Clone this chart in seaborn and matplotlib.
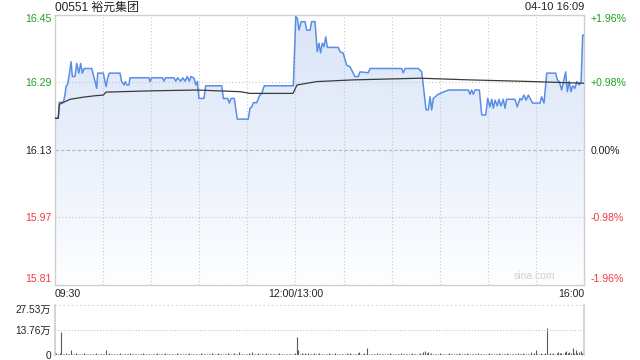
import numpy as np
import pandas as pd
import matplotlib
matplotlib.use("Agg")
import matplotlib.pyplot as plt
from matplotlib.colors import LinearSegmentedColormap
import seaborn as sns

# ---------------- data ----------------
title_text = "00551 裕元集团"
stamp_text = "04-10 16:09"
prev_close = 16.13
price_ticks = [15.81, 15.97, 16.13, 16.29, 16.45]
price_tick_labels = ["15.81", "15.97", "16.13", "16.29", "16.45"]
pct_tick_labels = ["-1.96%", "-0.98%", "0.00%", "+0.98%", "+1.96%"]
time_tick_pos = [0, 150, 330]
time_tick_labels = ["09:30", "12:00/13:00", "16:00"]
vol_ticks = [0, 13.76, 27.53]
vol_tick_labels = ["0", "13.76万", "27.53万"]

# minutes since 09:30 (lunch removed) and price at each vertex of the line
minutes = [0, 2.2, 2.9, 5.4, 6.4, 7.0, 7.9, 8.9, 10.2, 11.0, 12.6, 13.7, 15.0, 16.2, 17.2, 18.4,
           23.1, 24.1, 25.1, 26.2, 26.8, 30.3, 32.0, 33.0, 34.0, 40.7, 41.7, 43.2, 44.0, 44.9, 46.3,
           46.9, 58.8, 59.4, 60.4, 67.3, 68.1, 69.2, 74.3, 75.4, 76.6, 78.5, 79.8, 81.2, 82.6, 83.9,
           84.9, 86.8, 87.9, 88.9, 89.9, 93.0, 94.1, 104.1, 105.1, 107.8, 108.8, 109.9, 111.9, 113.8,
           120.6, 121.7, 122.8, 123.8, 125.9, 127.5, 129.0, 130.6, 148.7, 150.2, 151.2, 152.2, 153.5,
           156.0, 157.0, 159.1, 160.1, 162.2, 163.6, 164.7, 165.7, 166.7, 167.8, 168.9, 169.9, 176.7,
           177.8, 179.8, 181.9, 184.0, 185.1, 187.1, 189.2, 190.2, 195.4, 196.5, 216.2, 217.2, 218.3,
           226.6, 228.7, 231.4, 232.8, 233.9, 234.9, 235.9, 239.0, 245.3, 257.7, 258.8, 259.8, 260.8,
           261.9, 264.6, 266.1, 268.6, 269.8, 271.2, 272.3, 273.3, 274.4, 275.8, 276.8, 278.1, 279.5,
           280.6, 281.6, 286.8, 288.2, 289.9, 291.0, 292.4, 293.7, 295.1, 296.2, 297.8, 302.4, 303.4,
           304.9, 306.6, 312.2, 313.2, 314.4, 315.9, 318.4, 319.4, 320.6, 321.7, 322.8, 324.2, 325.3,
           326.9, 328.0, 329.0, 330]
prices = [16.204, 16.204, 16.242, 16.242, 16.259, 16.279, 16.283, 16.303, 16.338, 16.303, 16.303,
          16.334, 16.311, 16.334, 16.311, 16.322, 16.322, 16.307, 16.291, 16.275, 16.311, 16.311,
          16.279, 16.299, 16.311, 16.311, 16.291, 16.283, 16.291, 16.283, 16.283, 16.300, 16.300,
          16.291, 16.300, 16.300, 16.292, 16.300, 16.300, 16.292, 16.300, 16.292, 16.300, 16.292,
          16.303, 16.292, 16.303, 16.299, 16.283, 16.291, 16.251, 16.251, 16.281, 16.281, 16.251,
          16.251, 16.240, 16.251, 16.251, 16.202, 16.202, 16.228, 16.231, 16.241, 16.241, 16.257,
          16.263, 16.281, 16.281, 16.445, 16.441, 16.413, 16.433, 16.433, 16.413, 16.413, 16.433,
          16.433, 16.362, 16.382, 16.359, 16.382, 16.374, 16.397, 16.372, 16.372, 16.362, 16.358,
          16.330, 16.326, 16.318, 16.303, 16.303, 16.314, 16.312, 16.322, 16.322, 16.312, 16.322,
          16.322, 16.314, 16.224, 16.224, 16.255, 16.224, 16.251, 16.261, 16.271, 16.271, 16.261,
          16.271, 16.261, 16.271, 16.271, 16.212, 16.212, 16.251, 16.231, 16.249, 16.228, 16.247,
          16.233, 16.249, 16.233, 16.249, 16.228, 16.249, 16.249, 16.231, 16.251, 16.247, 16.259,
          16.247, 16.259, 16.251, 16.240, 16.240, 16.255, 16.240, 16.311, 16.311, 16.295, 16.291,
          16.271, 16.314, 16.267, 16.291, 16.267, 16.281, 16.275, 16.291, 16.283, 16.291, 16.401,
          16.401]

avg_minutes = [0, 2.2, 2.9, 9.5, 17.8, 24.1, 30.3, 32.0, 59.4, 88.7, 115.5, 121.7, 148.5, 151.0,
               163.4, 185.9, 227.6, 258.8, 298.0, 330]
avg_prices = [16.204, 16.204, 16.237, 16.249, 16.254, 16.257, 16.259, 16.266, 16.269, 16.271,
              16.267, 16.263, 16.263, 16.283, 16.291, 16.295, 16.299, 16.295, 16.291, 16.287]

# volume per minute, in 万 shares (index = minute since 09:30)
volume = [
    1.8, 0.9, 0.6, 1.2, 12.8, 0.7, 0.5, 0.9, 0.4, 0.8, 2.8, 0.6, 0.4, 1.0, 0.5, 0.3, 0.7, 0.6, 0.9, 0.4,
    0.5, 0.8, 0.3, 0.6, 0.7, 0.4, 1.1, 0.5, 0.6, 0.3,
    0.7, 0.5, 2.7, 0.6, 0.9, 0.4, 0.8, 0.5, 0.3, 0.7, 0.6, 1.0, 0.4, 0.5, 0.8, 0.3, 0.6, 0.9, 0.5, 0.4,
    0.7, 0.6, 0.3, 0.8, 0.5, 0.9, 0.4, 0.6, 0.7, 0.5,
    0.4, 0.8, 0.6, 0.3, 0.9, 0.5, 0.7, 0.4, 0.6, 1.1, 0.5, 0.3, 0.8, 0.6, 0.4, 0.7, 0.9, 0.5, 0.3, 0.6,
    0.8, 0.4, 0.7, 0.5, 1.0, 0.6, 0.3, 0.5, 0.8, 0.4,
    0.6, 0.9, 0.5, 0.7, 0.4, 0.8, 0.6, 0.3, 1.2, 0.5, 0.7, 0.4, 0.9, 0.6, 0.5, 0.8, 0.3, 0.7, 1.0, 0.5,
    0.6, 0.4, 0.9, 0.7, 0.5, 1.8, 0.6, 0.4, 0.8, 0.5,
    0.7, 0.9, 0.5, 1.8, 0.6, 0.4, 0.8, 1.1, 0.5, 0.7, 0.3, 0.6, 0.9, 0.5, 0.4, 0.8, 0.6, 0.7, 0.3, 0.5,
    0.9, 0.6, 0.4, 0.7, 0.5, 0.8, 0.6, 0.3, 0.7, 0.5,
    0.9, 10.1, 2.7, 0.8, 1.2, 0.6, 0.9, 0.5, 1.0, 0.7, 0.4, 0.8, 1.3, 0.6, 0.5, 0.9, 0.7, 0.4, 0.8, 0.6,
    0.5, 1.0, 0.7, 0.4, 0.6, 0.9, 0.5, 0.8, 0.6, 0.4,
    0.7, 0.5, 0.9, 0.6, 1.1, 0.4, 0.8, 0.6, 0.5, 1.0, 1.8, 0.7, 0.4, 0.9, 0.6, 3.7, 0.5, 0.8, 0.4, 0.7,
    0.6, 0.9, 0.5, 0.3, 0.8, 0.6, 0.4, 0.7, 0.5, 0.9,
    0.6, 0.4, 0.8, 0.5, 0.7, 0.3, 0.9, 0.6, 0.5, 0.8, 0.4, 0.7, 0.6, 1.0, 0.5, 0.8, 0.4, 0.6, 1.2, 0.7,
    1.4, 2.2, 0.9, 1.8, 0.6, 1.1, 0.5, 0.8, 0.7, 0.4,
    0.9, 0.6, 0.5, 0.8, 0.4, 0.7, 1.0, 0.5, 0.6, 0.3, 0.8, 0.6, 0.9, 0.4, 0.7, 0.5, 0.6, 1.1, 0.4, 0.8,
    0.5, 0.7, 0.6, 0.3, 0.9, 0.5, 0.8, 0.6, 0.4, 0.7,
    0.5, 0.9, 0.6, 0.4, 0.8, 0.7, 0.5, 1.0, 0.6, 0.4, 0.7, 0.5, 0.9, 0.3, 0.6, 0.8, 0.5, 0.7, 0.4, 0.9,
    0.6, 0.5, 1.2, 0.7, 0.4, 0.8, 0.6, 1.4, 0.5, 0.9,
    2.7, 0.7, 0.5, 1.0, 0.6, 0.8, 0.9, 14.7, 0.6, 1.1, 0.8, 1.3, 0.7, 0.9, 1.5, 1.0, 1.2, 0.8, 1.6, 2.2,
    1.1, 1.4, 0.9, 4.0, 1.3, 2.7, 1.0, 1.5, 2.2, 1.2,
    27.5,
]

# ---------------- style ----------------
sns.set_theme(style="white")
plt.rcParams["font.family"] = ["Liberation Sans", "Noto Sans CJK SC", "DejaVu Sans"]

GREEN = "#1ea01e"
RED = "#f23a3a"
GRID = "#c8c8c8"
BORDER = "#cfcfcf"

W, H = 640, 360
fig = plt.figure(figsize=(6.4, 3.6), dpi=100)
fig.patch.set_facecolor("white")


def fx(px):
    return px / W


def fy(py):
    return 1 - py / H


L, R = 54.7, 584.3
ax = fig.add_axes([fx(L), fy(284.5), fx(R - L), fy(14.5) - fy(284.5)])
axv = fig.add_axes([fx(L), fy(355), fx(R - L), fy(305) - fy(355)])

df = pd.DataFrame({"minute": minutes, "price": prices})
dfa = pd.DataFrame({"minute": avg_minutes, "price": avg_prices})

# gradient area under the price line
poly = ax.fill_between(df["minute"], df["price"], price_ticks[0], color="none", lw=0)
cmap = LinearSegmentedColormap.from_list(
    "g", [(0.0, "#fdfeff"), (0.55, "#e8effb"), (1.0, "#dae5f8")])
grad = np.linspace(0, 1, 256).reshape(-1, 1)
im = ax.imshow(grad, extent=[0, 330, price_ticks[0], price_ticks[-1]], origin="lower",
               aspect="auto", cmap=cmap, zorder=1, interpolation="bilinear")
im.set_clip_path(poly.get_paths()[0], transform=ax.transData)

# grid
for t in range(30, 330, 30):
    ax.axvline(t, color=GRID, lw=0.8, ls=(0, (1, 2)), zorder=2)
for v in (price_ticks[1], price_ticks[3]):
    ax.axhline(v, color=GRID, lw=0.8, ls=(0, (1, 2)), zorder=2)
ax.axhline(prev_close, color="#b5b5b5", lw=0.8, ls=(0, (3, 2)), zorder=2)

sns.lineplot(data=df, x="minute", y="price", ax=ax, color="#5a8ee6", lw=1.1,
             estimator=None, sort=False, zorder=4)
sns.lineplot(data=dfa, x="minute", y="price", ax=ax, color="#3a3a3a", lw=0.9,
             estimator=None, sort=False, zorder=5)

ax.set_xlim(0, 330)
ax.set_ylim(price_ticks[0], price_ticks[-1])
ax.set_xlabel("")
ax.set_ylabel("")
for s in ax.spines.values():
    s.set_color(BORDER)
    s.set_linewidth(1.0)

ax.set_yticks(price_ticks)
ax.set_yticklabels(price_tick_labels)
ax.tick_params(axis="y", length=0, pad=2.5, labelsize=7.6)
ycols = [RED, RED, "#222222", GREEN, GREEN]
for lab, c in zip(ax.get_yticklabels(), ycols):
    lab.set_color(c)
labs = ax.get_yticklabels()
labs[0].set_va("bottom")
labs[-1].set_va("top")

ax.set_xticks(time_tick_pos)
ax.set_xticklabels(time_tick_labels)
ax.tick_params(axis="x", length=0, pad=3, labelsize=7.6, labelcolor="#222222")
xl = ax.get_xticklabels()
xl[0].set_ha("left")
xl[1].set_ha("center")
xl[2].set_ha("right")

# right percent axis
ax2 = ax.twinx()
ax2.set_ylim(ax.get_ylim())
ax2.set_yticks(price_ticks)
ax2.set_yticklabels(pct_tick_labels)
ax2.tick_params(axis="y", length=0, pad=4.5, labelsize=7.6)
for lab, c in zip(ax2.get_yticklabels(), ycols):
    lab.set_color(c)
ax2.grid(False)
for s in ax2.spines.values():
    s.set_visible(False)
plabs = ax2.get_yticklabels()
plabs[0].set_va("bottom")
plabs[-1].set_va("top")

ax.text(0.945, 0.012, "sina.com", transform=ax.transAxes, ha="right", va="bottom",
        fontsize=7.5, color="#cfcfcf", zorder=6)

# titles
fig.text(fx(55), fy(7.5), title_text, ha="left", va="center", fontsize=8.6, color="#222222")
fig.text(fx(584), fy(7.5), stamp_text, ha="right", va="center", fontsize=8.0, color="#222222")

# volume panel
vx = np.arange(len(volume))
axv.vlines(vx, 0, volume, color="#5a5a5a", lw=0.8)
axv.set_xlim(0, 330.3)
axv.set_ylim(0, vol_ticks[-1])
axv.axhline(vol_ticks[1], color=GRID, lw=0.8, ls=(0, (1, 1.5)))
axv.axhline(vol_ticks[2], color=GRID, lw=1.2, ls=(0, (1, 1.5)))
axv.set_facecolor("white")
axv.spines["top"].set_visible(False)
axv.spines["bottom"].set_visible(False)
axv.spines["left"].set_color(BORDER)
axv.spines["right"].set_color(BORDER)
axv.set_xticks([])
axv.set_yticks(vol_ticks)
axv.set_yticklabels(vol_tick_labels)
axv.tick_params(axis="y", length=0, pad=2.5, labelsize=7.3, labelcolor="#222222")
vl = axv.get_yticklabels()
vl[-1].set_va("top")

fig.savefig("out.png", dpi=100, facecolor="white")
